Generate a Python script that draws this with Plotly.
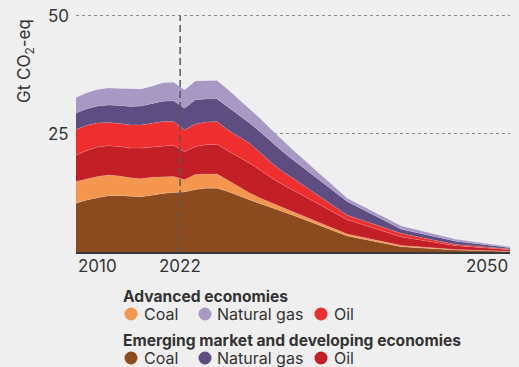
import plotly.graph_objects as go

# ---------------- data ----------------
YEARS = [2010, 2011, 2012, 2013, 2014, 2015, 2016, 2017, 2018, 2019, 2020,
         2021, 2022, 2023, 2024, 2025, 2026, 2027, 2028, 2029, 2030,
         2035, 2040, 2045, 2050]

emde_coal = [10.3, 11.0, 11.5, 11.9, 11.9, 11.8, 11.7, 12.0, 12.4, 12.6, 12.7,
             13.2, 13.5, 13.5, 12.8, 11.9, 11.0, 10.2, 9.4, 8.6, 7.8,
             3.4, 1.1, 0.4, 0.1]
adv_coal = [4.6, 4.5, 4.5, 4.4, 4.2, 3.9, 3.8, 3.8, 3.5, 3.4, 2.6,
            3.2, 3.0, 3.0, 2.4, 1.9, 1.5, 1.2, 1.0, 0.8, 0.7,
            0.4, 0.3, 0.15, 0.05]
emde_oil = [5.6, 6.0, 6.2, 6.2, 6.2, 6.3, 6.5, 6.4, 6.5, 6.6, 5.9,
            5.9, 6.2, 6.3, 6.2, 6.3, 6.3, 5.9, 5.3, 4.9, 4.6,
            3.0, 1.8, 0.75, 0.35]
adv_oil = [5.4, 5.3, 5.1, 4.9, 4.9, 4.9, 4.9, 5.1, 5.2, 5.0, 4.6,
           4.8, 4.8, 4.8, 4.4, 4.3, 4.2, 3.7, 3.2, 2.8, 2.5,
           1.0, 0.7, 0.3, 0.15]
emde_gas = [3.5, 3.5, 3.6, 3.7, 3.8, 3.9, 4.0, 4.1, 4.3, 4.4, 4.6,
            5.1, 4.9, 4.8, 4.9, 4.6, 4.3, 4.4, 4.4, 4.2, 3.9,
            2.9, 0.9, 0.7, 0.25]
adv_gas = [3.3, 3.4, 3.5, 3.6, 3.6, 3.7, 3.6, 3.7, 3.9, 3.9, 3.9,
           4.0, 3.9, 3.9, 3.7, 3.3, 3.1, 2.8, 2.6, 2.4, 2.1,
           0.7, 0.7, 0.4, 0.2]

TICK_YEARS = [2010, 2019.6, 2050]     # positions of the x labels as drawn
TICK_LABELS = ["2010", "2022", "2050"]
Y_TICKS = [25, 50]
MARKER_X = 2019.6                     # dashed "2022" marker as drawn in the chart

# ---------------- styles ----------------
FONT = "Inter, Roboto, Arial, sans-serif"
TXT = "#333333"
BG = "#efefef"

series = [
    ("Emerging market and developing economies", "Coal", emde_coal, "#8c4a1f"),
    ("Advanced economies", "Coal", adv_coal, "#f5964f"),
    ("Emerging market and developing economies", "Oil", emde_oil, "#c31f27"),
    ("Advanced economies", "Oil", adv_oil, "#ee2e2f"),
    ("Emerging market and developing economies", "Natural gas", emde_gas, "#5d4d80"),
    ("Advanced economies", "Natural gas", adv_gas, "#a798c4"),
]

fig = go.Figure()
for grp, name, vals, col in series:
    fig.add_trace(go.Scatter(
        x=YEARS, y=vals, name=f"{grp}: {name}", mode="lines",
        stackgroup="one", fillcolor=col,
        line=dict(width=0.6, color="rgba(255,255,255,0.25)"),
        showlegend=False, hoverinfo="x+y+name"))

W, H = 519, 367
L, R, T, B = 76, 9, 11, 115
PW, PH = W - L - R, H - T - B
YMAX = 51


def px(xp):
    return (xp - L) / PW


def py(yp):
    return (H - B - yp) / PH


shapes = [
    dict(type="line", xref="x", yref="y", x0=MARKER_X, x1=MARKER_X, y0=0, y1=50,
         line=dict(color="#5a5a5a", width=1.5, dash="7px,4px"), layer="above"),
]

annotations = [
    dict(text="Gt CO<sub>2</sub>-eq", xref="paper", yref="paper",
         x=px(25), y=py(17), xanchor="center", yanchor="top", textangle=-90,
         showarrow=False, font=dict(family=FONT, size=17, color=TXT)),
]

# y tick labels
for v in Y_TICKS:
    annotations.append(dict(text=str(v), xref="paper", yref="y", x=px(71), y=v,
                            xanchor="right", yanchor="middle", showarrow=False,
                            font=dict(family=FONT, size=17, color=TXT)))

# x tick labels
anchors = ["left", "center", "right"]
for tv, tl, an in zip(TICK_YEARS, TICK_LABELS, anchors):
    annotations.append(dict(text=tl, xref="x", yref="paper", x=tv, y=0,
                            xanchor=an, yanchor="middle", yshift=-14,
                            showarrow=False,
                            font=dict(family=FONT, size=17, color=TXT)))

# legend (manual)
legend_rows = [
    ("Advanced economies", 296, 314,
     [("Coal", "#f5964f"), ("Natural gas", "#a798c4"), ("Oil", "#ee2e2f")]),
    ("Emerging market and developing economies", 340, 358,
     [("Coal", "#8c4a1f"), ("Natural gas", "#5d4d80"), ("Oil", "#c31f27")]),
]
circle_x = [131, 205, 321]
text_x = [143, 216, 333]
for title, ty, iy, items in legend_rows:
    annotations.append(dict(text=f"<b>{title}</b>", xref="paper", yref="paper",
                            x=px(122), y=py(ty), xanchor="left", yanchor="middle",
                            showarrow=False, borderpad=0,
                            font=dict(family=FONT, size=15.6, color=TXT)))
    for (lab, col), cx, tx in zip(items, circle_x, text_x):
        r = 6.5
        shapes.append(dict(type="circle", xref="paper", yref="paper",
                           x0=px(cx - r), x1=px(cx + r), y0=py(iy + r), y1=py(iy - r),
                           fillcolor=col, line=dict(width=0)))
        annotations.append(dict(text=lab, xref="paper", yref="paper",
                                x=px(tx), y=py(iy), xanchor="left", yanchor="middle",
                                showarrow=False, borderpad=0,
                                font=dict(family=FONT, size=16, color=TXT)))

fig.update_layout(
    width=W, height=H,
    margin=dict(l=L, r=R, t=T, b=B, pad=0),
    paper_bgcolor=BG, plot_bgcolor=BG,
    font=dict(family=FONT, color=TXT),
    showlegend=False,
    shapes=shapes, annotations=annotations,
    xaxis=dict(range=[2010, 2050], showgrid=False, zeroline=False,
               showticklabels=False, ticks="", showline=True,
               linecolor="#3a3a3a", linewidth=2, fixedrange=True),
    yaxis=dict(range=[0, YMAX], tickvals=Y_TICKS, showticklabels=False,
               showgrid=True, gridcolor="#8a8a8a", griddash="dot", gridwidth=1,
               zeroline=False, showline=False, ticks="", fixedrange=True),
)

fig.write_html(
    "out.html",
    config={"displayModeBar": False},
    post_script="document.body.style.margin='0';"
                "document.body.style.background='%s';" % BG,
)
